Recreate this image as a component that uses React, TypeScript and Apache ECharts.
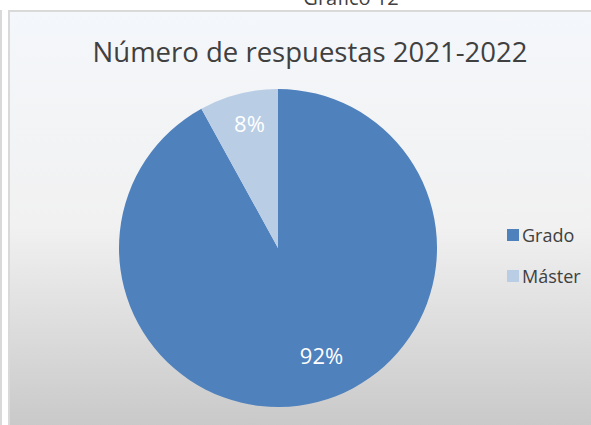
import React, { useEffect, useRef } from "react";
import * as echarts from "echarts";

const categories = ["Grado", "Máster"];
const values = [92, 8];
const colors = ["#4f81bd", "#b9cde5"];
const pctLabels = ["92%", "8%"];
const titleText = "Número de respuestas 2021-2022";
const captionText = "Gráfico 12";

const FONT = "'Open Sans', 'Noto Sans', sans-serif";

export default function App() {
  const ref = useRef<HTMLDivElement>(null);
  useEffect(() => {
    if (!ref.current) return;
    const chart = echarts.init(ref.current, undefined, { renderer: "svg" });
    const labelOffsets: number[][] = [
      [23, 27],
      [-8, -45],
    ];
    chart.setOption({
      animation: false,
      backgroundColor: "#ffffff",
      graphic: [
        {
          type: "rect",
          z: -10,
          silent: true,
          shape: { x: 0, y: 10, width: 2, height: 420 },
          style: { fill: "#d9d9d9" },
        },
        {
          type: "rect",
          z: -10,
          silent: true,
          shape: { x: 9, y: 11, width: 600, height: 430 },
          style: {
            fill: new echarts.graphic.LinearGradient(0, 0, 0, 1, [
              { offset: 0, color: "#f4f7fb" },
              { offset: 0.5, color: "#f1f1f1" },
              { offset: 1, color: "#c6c6c6" },
            ]),
            stroke: "#d9d9d9",
            lineWidth: 2,
          },
        },
        {
          type: "text",
          z: 10,
          silent: true,
          x: 351,
          y: 7,
          style: {
            text: captionText,
            fill: "#404040",
            font: `20px ${FONT}`,
            align: "center",
            verticalAlign: "bottom",
          },
        },
      ],
      title: {
        text: titleText,
        left: 305,
        textAlign: "center",
        top: 32,
        textStyle: {
          fontFamily: FONT,
          fontSize: 27.5,
          fontWeight: "normal",
          color: "#404040",
        },
      },
      legend: {
        orient: "vertical",
        left: 502,
        top: 221,
        itemWidth: 12,
        itemHeight: 12,
        itemGap: 23,
        icon: "rect",
        data: categories,
        textStyle: {
          fontFamily: FONT,
          fontSize: 18,
          color: "#404040",
          padding: [0, 0, 0, -2],
        },
      },
      series: [
        {
          type: "pie",
          center: [278, 248],
          radius: 159,
          startAngle: 90,
          clockwise: true,
          avoidLabelOverlap: false,
          itemStyle: { borderWidth: 0 },
          emphasis: { disabled: true },
          label: {
            show: true,
            position: "inside",
            color: "#ffffff",
            fontFamily: FONT,
            fontSize: 22,
          },
          labelLine: { show: false },
          data: categories.map((c, i) => ({
            name: c,
            value: values[i],
            itemStyle: { color: colors[i] },
            label: { formatter: pctLabels[i], offset: labelOffsets[i] },
          })),
        },
      ],
    });
    return () => chart.dispose();
  }, []);
  return (
    <div
      ref={ref}
      style={{ position: "fixed", left: 0, top: 0, width: 591, height: 425 }}
    />
  );
}
